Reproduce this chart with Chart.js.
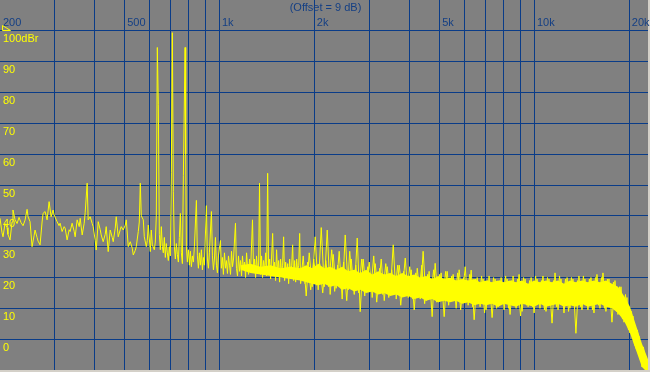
<!DOCTYPE html>
<html>
<head>
<meta charset="utf-8">
<script src="https://cdn.jsdelivr.net/npm/chart.js@4.4.1/dist/chart.umd.min.js"></script>
<style>
  html, body { margin: 0; padding: 0; background: #d4d0c8; }
  #wrap { width: 650px; height: 372px; }
</style>
</head>
<body>
<div id="wrap"><canvas id="spectrum" width="650" height="372"></canvas></div>
<script>
// axis labels
const titleText = "(Offset = 9 dB)";
const freqTicks = [200, 500, 1000, 2000, 5000, 10000, 20000];
const freqTickLabels = ["200", "500", "1k", "2k", "5k", "10k", "20k"];
const gridFreqs = [200, 300, 400, 500, 600, 700, 800, 900, 1000, 2000, 3000, 4000, 5000, 6000, 7000, 8000, 9000, 10000, 20000];
const levelTicks = [0, 10, 20, 30, 40, 50, 60, 70, 80, 90, 100];
const levelTickLabels = ["0", "10", "20", "30", "40", "50", "60", "70", "80", "90", "100dBr"];

// trace: [Hz, dBr]
const lowTrace = [
  [201,39.2],[204,34.5],[205.5,33.2],[208.5,37.5],[211.6,36.2],[213,34],[216.3,32.2],[219.5,38],[221,41.9],
  [224.4,38.7],[227.7,37.5],[231,39.5],[234.4,37.8],[237.9,36.8],[241.4,38.6],[245,42.1],[246.8,39.7],
  [250.4,38.1],[254.1,30],[257.8,33.5],[259.7,35.4],[263.5,33],[265.5,31.8],[269.4,30.6],[273.4,38],
  [275.4,40.8],[279.5,41.4],[283.6,38.7],[287.8,44.6],[292,39.7],[296.3,41.9],[298.5,40.3],[305.1,38.1],
  [309.6,36.8],[311.9,37.6],[316.5,34.9],[321.2,36.5],[323.6,36],[328.3,32.2],[333.2,35.5],[335.6,34.9],
  [340.5,37.6],[345.6,35],[348.2,33.2],[353.3,38.7],[358.6,36.5],[361.2,39.2],[366.5,33.8],[371.9,37.6],
  [374.6,41],[380.1,50.6],[382.9,38.7],[388.6,39.7],[394.3,37.5],[397.2,36.5],[403.1,32],[406.1,28.9],
  [412.1,38.1],[418.1,35.5],[421.2,33.8],[427.4,31.6],[433.7,34],[436.9,36.5],[443.3,28.4],[449.9,35.4],
  [456.5,33],[459.9,31.6],[466.7,36],[470.1,39.7],[477,33.2],[484.1,35.5],[487.6,36.5],[494.8,35.4],
  [502.2,37],[505.9,38.7],[513.3,30],[520.9,31.6],[528.6,29.5],[532.5,27.3],[540.3,28.8],[544.3,30],
  [552.3,34.9],[556.4,38],[560.5,50.6],[564.6,40],[572.9,38.7],[577.1,33.2],[585.7,30],[589.9,32],
  [594.3,37],[603.1,28.4],[607.5,35.4],[612,30.6],[621,29],[625.6,31.5]
];
const peakTrace = [
  [630.2,40],[634.8,94.6],[639.5,76],[644.2,34],[648.9,29],[653.7,36.5],[658.5,30],[663.3,28],[668.2,33],
  [673.1,26.5],[678,31],[683,28],[688,25.5],[693.1,30],[698.2,27],[703.3,54],[708.5,99.4],[713.7,47.8],
  [719,30],[724.3,26],[729.6,31],[735,27.5],[740.4,25],[745.8,33],[751.3,40.8],[756.8,28],[762.4,24.5],
  [768,53],[777.6,94.6],[781,60],[785,30],[790.8,25],[796.6,29],[802.5,24],[808.4,28.5],[814.3,23.5],
  [820.3,27],[826.3,25],[832.4,30],[844.7,45],[850.9,27],[857.2,23],[863.5,28],[869.8,24],[876.2,29],
  [882.6,22.5],[889.1,26.5],[895.6,24],[908.8,43.3],[915.5,26],[922.2,23],[929,28],[942.8,41.4],
  [949.7,27],[956.7,22.5],[963.7,26],[970.8,33],[977.9,24],[985.1,21.5],[992.3,27],[1007,32],[1014,23],
  [1022,26.5],[1029,21],[1037,28],[1045,23],[1052,25.5],[1060,21.3],[1068,27],[1076,24],[1084,21],
  [1092,28.5],[1100,23.5],[1108,26],[1124,37.6],[1132,23],[1141,20.5],[1149,27],[1158,22],[1166,25.5],
  [1175,20.5],[1183,27],[1192,22.5],[1201,25],[1210,20],[1219,28],[1228,23],[1237,21],[1246,26],
  [1255,22],[1273,38.7],[1283,22],[1292,26],[1302,20],[1311,27],[1321,22],[1331,24],[1340,50.6],
  [1350,21],[1360,27],[1370,20],[1380,25.5],[1391,22],[1401,28],[1411,20.5],[1422,53.8],[1432,22],
  [1443,26],[1453,19.5],[1475,34.3],[1485,21],[1496,25],[1507,19],[1518,29],[1529,21.5],[1541,25.5],
  [1552,18.5],[1563,26],[1575,21],[1586,24],[1598,33.2],[1610,19],[1622,25],[1634,20.5],[1646,24.5],
  [1658,18],[1670,26],[1682,21],[1695,24],[1707,30.6],[1720,19],[1732,25.5],[1745,18.5],[1758,26],
  [1771,22],[1784,24],[1797,34.3],[1810,18]
];
const bandTrace = [
  [1844,27],[1885,14],[1927,28],[1970,17],[2013,33.2],[2058,16],[2104,36.2],[2151,17],[2198,35.4],
  [2246,14.5],[2296,27.5],[2347,16.5],[2399,28.5],[2452,13],[2507,33.8],[2563,16],[2620,26],[2678,14.5],
  [2737,32.8],[2797,8.9],[2859,26],[2923,15.5],[2988,25],[3054,13.5],[3122,24.5],[3191,15],[3262,26],
  [3335,12.5],[3409,23.5],[3483,14.5],[3561,30.6],[3640,13],[3721,24],[3803,15],[3888,26.3],[3974,13.5],
  [4062,22.5],[4152,9.5],[4245,23],[4339,13],[4431,28.5],[4530,12.5],[4630,22],[4733,7.3],[4838,24.6],
  [4946,12],[5055,21.5],[5168,7.3],[5282,22],[5398,12.5],[5518,21],[5641,10],[5766,22.5],[5894,12],
  [6025,23.5],[6159,11],[6295,22.4],[6435,6.3],[6578,20],[6719,10.5],[6868,19.5],[7021,9.5],[7177,20.5],
  [7336,7],[7499,19.5],[7665,10.5],[7835,20],[8009,9.5],[8187,19.5],[8366,8],[8552,20.5],[8742,10],
  [8936,21],[9134,9],[9337,19.5],[9545,10.5],[9757,20],[9973,8.5],[10190,19.5],[10410,10],[10640,20.5],
  [10880,9],[11120,19.5],[11370,5.2],[11620,21.5],[11880,9.5],[12140,19.5],[12410,8.5],[12690,20],
  [12960,10],[13250,19.5],[13540,1.9],[13840,20.5],[14150,9.5],[14460,19.5],[14780,9.5],[15110,20],
  [15450,8.5],[15790,21],[16140,10],[16500,21.5],[16860,9],[17240,19.5],[17620,5.5],[18010,19],[18410,8],
  [18820,17],[19240,5.5],[19660,13.5],[20100,2],[20550,7.5],[21000,-3],[21470,1],[21940,-9],[22430,-5],
  [22930,-11]
];
// the neighbouring bins of the same band, between the ones above
const bandTraceB = [
  [1864,18],[1906,25],[1948,16],[1992,26],[2035,17.5],[2081,24.5],[2127,15],[2175,25.5],[2222,17],
  [2271,29],[2321,15.5],[2373,24],[2425,16.5],[2479,25],[2535,12.5],[2591,28.5],[2649,16],[2708,24],
  [2767,15],[2828,26],[2891,14],[2955,23.5],[3021,15.5],[3088,27],[3156,12],[3226,23],[3298,14.5],
  [3372,24.5],[3447,13.5],[3521,22.5],[3600,15],[3680,24],[3762,11],[3845,22],[3931,14],[4018,23.5],
  [4107,13],[4198,21.5],[4292,14],[4387,24],[4480,11.5],[4580,21],[4681,13.5],[4785,22.5],[4891,12],
  [5000,21],[5111,13],[5225,22],[5340,11],[5458,20.5],[5579,12.5],[5703,21.5],[5830,9.5],[5959,20],
  [6091,12],[6227,21],[6364,10.5],[6506,19.5],[6650,12],[6793,20.5],[6944,8.5],[7098,19],[7256,11.5],
  [7417,20],[7582,10],[7750,19],[7921,11.5],[8097,20.5],[8277,10],[8458,19],[8646,11.5],[8838,19.5],
  [9034,7.5],[9235,20],[9440,11],[9650,19],[9864,10.5],[10080,20.5],[10300,11.5],[10520,19],[10760,9.5],
  [11000,20],[11240,11],[11490,19],[11750,10.5],[12010,20.5],[12270,11.5],[12550,19.5],[12830,9],
  [13100,20],[13400,11],[13690,19],[13990,10.5],[14300,20.5],[14620,11],[14940,19.5],[15280,9.5],
  [15620,20],[15960,11],[16320,20],[16680,10],[17050,19.5],[17430,10.5],[17810,18.5],[18210,9],
  [18610,17],[19030,6.5],[19450,14.5],[19880,3],[20320,9],[20780,-2],[21230,3],[21710,-7],[22180,-2.5],
  [22680,-11]
];

// solid core of the noise band (ragged top and bottom edge)
const coreFreq = [
  1166, 1255, 1350, 1453, 1563, 1682, 1804, 1885, 1970, 2058, 2151, 2246, 2347, 2452, 2563, 2678,
  2797, 2923, 3054, 3191, 3335, 3483, 3640, 3803, 3974, 4152, 4339, 4530, 4733, 4946, 5168, 5398,
  5641, 5894, 6159, 6435, 6719, 7021, 7336, 7665, 8009, 8366, 8742, 9134, 9545, 9973, 10410, 10880,
  11370, 11880, 12410, 12960, 13540, 14150, 14780, 15450, 16140, 16860, 17620, 18410, 19240, 20100,
  21000, 21940, 22930
];
const coreTop = [
  24, 24.5, 23.5, 24, 23, 23.5, 23, 24, 23, 24.5, 23, 23.5, 22.5, 23.5, 22, 22.5,
  21.5, 22.5, 21, 22, 21, 21.5, 20.5, 21.5, 20.5, 21, 20, 20.5, 19.5, 20.5, 19.5, 20,
  19, 19.5, 19, 19.5, 18.5, 19, 18.5, 19, 18.5, 19, 18.5, 19, 18, 19, 18.5, 19,
  18.5, 19, 18, 19, 18.5, 19, 18.5, 19, 18.5, 19, 18, 17, 14, 10.5,
  4.5, -1.5, -6.5
];
const coreBottom = [
  22.5, 21.5, 21, 20.5, 20, 19.5, 19, 18.5, 18, 17.5, 18, 17, 17.5, 16, 16.5, 15.5,
  16, 15, 15.5, 14.5, 15, 14, 14.5, 13.5, 14, 13, 13.5, 12.5, 13, 12, 12.5, 12,
  12.5, 11.5, 12, 11, 11.5, 11, 11.5, 10.5, 11.5, 11, 10.5, 11.5, 11, 10.5, 11.5, 10.5,
  11, 11.5, 10.5, 11, 10.5, 11.5, 10.5, 11, 11.5, 10.5, 10, 8.5, 6, 2,
  -3.5, -9, -11
];

const gridColor = "#0a3c88";
const textBlue = "#143f84";
const traceYellow = "#ffff00";
const labelFont = '11px "Liberation Sans", Arial, sans-serif';

const toPoints = arr => arr.map(p => ({ x: p[0], y: p[1] }));
const traceData = toPoints(lowTrace.concat(peakTrace, bandTrace));
const traceDataB = toPoints(bandTraceB);
const topData = coreFreq.map((f, i) => ({ x: f, y: coreTop[i] }));
const bottomData = coreFreq.map((f, i) => ({ x: f, y: coreBottom[i] }));

const panel = {
  id: "panel",
  beforeDraw(chart) {
    const { ctx, chartArea: a } = chart;
    ctx.save();
    ctx.fillStyle = "#808080";
    ctx.fillRect(a.left, a.top, a.right - a.left, a.bottom - a.top);
    ctx.restore();
  },
  beforeDatasetsDraw(chart) {
    const { ctx, scales } = chart;
    ctx.save();
    ctx.font = labelFont;
    ctx.textBaseline = "alphabetic";
    ctx.textAlign = "left";
    ctx.fillStyle = textBlue;
    freqTicks.forEach((f, i) => {
      const px = scales.x.getPixelForValue(f);
      ctx.fillText(freqTickLabels[i], Math.max(px + 2.5, 3), 25.5);
    });
    ctx.textAlign = "center";
    ctx.fillText(titleText, 325.5, 10.5);

    ctx.textAlign = "left";
    ctx.fillStyle = traceYellow;
    levelTicks.forEach((v, i) => {
      ctx.fillText(levelTickLabels[i], 3, scales.y.getPixelForValue(v) + 11.5);
    });

    // reference marker at the top line
    const y100 = Math.round(scales.y.getPixelForValue(100)) - 0.5;
    ctx.strokeStyle = traceYellow;
    ctx.lineWidth = 1;
    ctx.beginPath();
    ctx.moveTo(2.5, y100 - 5);
    ctx.lineTo(10.5, y100);
    ctx.lineTo(2.5, y100);
    ctx.closePath();
    ctx.stroke();
    ctx.restore();
  }
};

const lineStyle = { borderColor: traceYellow, borderWidth: 1, pointRadius: 0, fill: false, tension: 0, clip: 0 };

new Chart(document.getElementById("spectrum"), {
  type: "line",
  data: {
    datasets: [
      Object.assign({ data: traceData }, lineStyle),
      Object.assign({ data: traceDataB }, lineStyle),
      { data: topData, borderColor: "rgba(0,0,0,0)", borderWidth: 1, pointRadius: 0, fill: "+1", backgroundColor: traceYellow, tension: 0, clip: 0 },
      { data: bottomData, borderColor: "rgba(0,0,0,0)", borderWidth: 1, pointRadius: 0, fill: false, tension: 0, clip: 0 }
    ]
  },
  options: {
    responsive: false,
    animation: false,
    events: [],
    layout: { padding: { left: 0, top: 0, right: 2, bottom: 2 } },
    plugins: { legend: { display: false }, tooltip: { enabled: false } },
    scales: {
      x: {
        type: "logarithmic",
        position: "top",
        min: 201,
        max: 22930,
        afterBuildTicks: s => { s.ticks = gridFreqs.map(v => ({ value: v })); },
        ticks: { display: false },
        grid: { color: gridColor, lineWidth: 1, drawTicks: false },
        border: { display: false }
      },
      y: {
        type: "linear",
        min: -10,
        max: 110,
        afterBuildTicks: s => { s.ticks = levelTicks.map(v => ({ value: v })); },
        ticks: { display: false },
        grid: { color: gridColor, lineWidth: 1, drawTicks: false },
        border: { display: false }
      }
    }
  },
  plugins: [panel]
});
</script>
</body>
</html>
